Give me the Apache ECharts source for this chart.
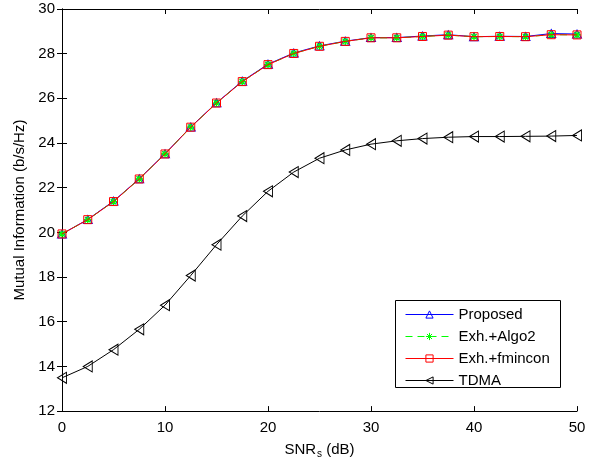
<!DOCTYPE html>
<html>
<head>
<meta charset="utf-8">
<script src="https://cdn.jsdelivr.net/npm/echarts@6/dist/echarts.min.js"></script>
<style>html,body{margin:0;padding:0;background:#fff}#c{width:599px;height:464px}</style>
</head>
<body>
<div id="c"></div>
<script>
var snr = [0, 2.5, 5, 7.5, 10, 12.5, 15, 17.5, 20, 22.5, 25, 27.5, 30, 32.5, 35, 37.5, 40, 42.5, 45, 47.5, 50];
var proposed = [19.93, 20.58, 21.40, 22.40, 23.52, 24.72, 25.80, 26.77, 27.53, 28.03, 28.35, 28.56, 28.72, 28.72, 28.79, 28.85, 28.76, 28.78, 28.77, 28.90, 28.88];
var exhAlgo2 = [19.93, 20.57, 21.38, 22.39, 23.51, 24.71, 25.79, 26.75, 27.51, 28.01, 28.33, 28.55, 28.71, 28.71, 28.77, 28.83, 28.76, 28.77, 28.76, 28.85, 28.84];
var exhFmincon = [19.93, 20.57, 21.38, 22.39, 23.51, 24.71, 25.79, 26.75, 27.51, 28.01, 28.33, 28.55, 28.71, 28.71, 28.77, 28.83, 28.76, 28.77, 28.76, 28.85, 28.84];
var tdma = [13.49, 14.00, 14.75, 15.66, 16.74, 18.07, 19.45, 20.73, 21.84, 22.70, 23.32, 23.69, 23.95, 24.10, 24.20, 24.26, 24.29, 24.29, 24.30, 24.31, 24.34];
var seriesNames = ['Proposed', 'Exh.+Algo2', 'Exh.+fmincon', 'TDMA'];

function pairs(ys) { return snr.map(function (x, i) { return [x, ys[i]]; }); }

var font = 'Liberation Sans, Arial, Helvetica, sans-serif';
var chart = echarts.init(document.getElementById('c'), null, {renderer: 'canvas'});
var axisCommon = {
  axisLine: {lineStyle: {color: '#000', width: 1}},
  axisTick: {inside: true, length: 5, lineStyle: {color: '#000'}},
  splitLine: {show: false}
};
chart.setOption({
  animation: false,
  backgroundColor: '#fff',
  textStyle: {fontFamily: font},
  grid: {left: 62, right: 22, top: 9, bottom: 49},
  graphic: [{
    type: 'rect', left: 395, top: 300, z: 90,
    shape: {width: 165, height: 87},
    style: {fill: '#fff', stroke: '#000', lineWidth: 1}
  }],
  legend: {
    left: 395, top: 300, orient: 'vertical', z: 100,
    padding: [7, 12, 0, 10],
    itemGap: 7, itemWidth: 48, itemHeight: 9,
    lineStyle: {width: 1},
    itemStyle: {borderWidth: 1},
    textStyle: {fontSize: 15, color: '#000', fontFamily: font},
    data: seriesNames
  },
  xAxis: [
    Object.assign({}, axisCommon, {
      type: 'value', min: 0, max: 50, interval: 10, position: 'bottom',
      axisLabel: {color: '#000', fontSize: 15, margin: 9, fontFamily: font},
      name: '{a|SNR}{s|s}{a| (dB)}', nameLocation: 'middle', nameGap: 27,
      nameTextStyle: {
        color: '#000', fontFamily: font,
        rich: {
          a: {fontSize: 15, color: '#000', fontFamily: font, lineHeight: 16},
          s: {fontSize: 10, color: '#000', fontFamily: font, padding: [9, 0, 0, 1], lineHeight: 16}
        }
      }
    }),
    Object.assign({}, axisCommon, {
      type: 'value', min: 0, max: 50, interval: 10, position: 'top',
      axisLabel: {show: false}
    })
  ],
  yAxis: [
    Object.assign({}, axisCommon, {
      type: 'value', min: 12, max: 30, interval: 2, position: 'left',
      axisLabel: {color: '#000', fontSize: 15, margin: 7, fontFamily: font},
      name: 'Mutual Information (b/s/Hz)', nameLocation: 'middle', nameGap: 28,
      nameTextStyle: {color: '#000', fontSize: 15, fontFamily: font}
    }),
    Object.assign({}, axisCommon, {
      type: 'value', min: 12, max: 30, interval: 2, position: 'right',
      axisLabel: {show: false}
    })
  ],
  series: [
    {
      name: seriesNames[0], type: 'line', data: pairs(proposed),
      symbol: 'triangle', symbolSize: [9, 8],
      lineStyle: {color: '#0000ff', width: 1},
      itemStyle: {color: 'none', borderColor: '#0000ff', borderWidth: 1},
      emphasis: {disabled: true}, z: 2
    },
    {
      name: seriesNames[1], type: 'line', data: pairs(exhAlgo2),
      symbol: 'path://M5,0L5,10M0,5L10,5M1.5,1.5L8.5,8.5M1.5,8.5L8.5,1.5', symbolSize: 8,
      lineStyle: {color: '#00ff00', width: 1, type: [7, 5]},
      itemStyle: {color: 'none', borderColor: '#00ff00', borderWidth: 1.3},
      emphasis: {disabled: true}, z: 3
    },
    {
      name: seriesNames[2], type: 'line', data: pairs(exhFmincon),
      symbol: 'rect', symbolSize: 8,
      lineStyle: {color: '#ff0000', width: 1},
      itemStyle: {color: 'none', borderColor: '#ff0000', borderWidth: 1},
      emphasis: {disabled: true}, z: 4
    },
    {
      name: seriesNames[3], type: 'line', data: pairs(tdma),
      symbol: 'path://M0,5.5L9,0L9,11Z', symbolSize: [9, 11],
      lineStyle: {color: '#000', width: 1},
      itemStyle: {color: 'none', borderColor: '#000', borderWidth: 1},
      emphasis: {disabled: true}, z: 5
    }
  ]
});
</script>
</body>
</html>
